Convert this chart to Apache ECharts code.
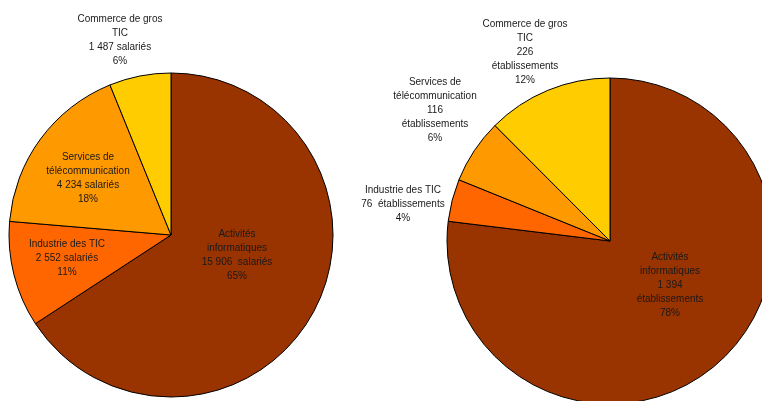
<!DOCTYPE html>
<html>
<head>
<meta charset="utf-8">
<script src="https://cdn.jsdelivr.net/npm/echarts@6/dist/echarts.min.js"></script>
<style>
  html, body { margin: 0; padding: 0; background: #fff; }
  #chart { width: 762px; height: 401px; }
</style>
</head>
<body>
<div id="chart"></div>
<script>
// secteurs, dans l'ordre horaire depuis midi
var sectors = ['Activités\ninformatiques', 'Industrie des TIC', 'Services de\ntélécommunication', 'Commerce de gros\nTIC'];
var sectorColors = ['#993300', '#FF6600', '#FF9900', '#FFCC00'];

// salariés
var employees = [15906, 2552, 4234, 1487];
var employeesPct = ['65%', '11%', '18%', '6%'];
var employeesSep = ['  salariés', ' salariés', ' salariés', ' salariés'];

// établissements
var firms = [1394, 76, 116, 226];
var firmsPct = ['78%', '4%', '6%', '12%'];
var firmsSep = ['\nétablissements', '  établissements', '\nétablissements', '\nétablissements'];

// position des étiquettes (centre)
var labelAnchors = [
    [[237, 255], [67, 258], [88, 178], [120, 40]],
    [[670, 285], [403, 204], [435, 110], [525, 52]]
];

function fmt(n) {
    return String(n).replace(/\B(?=(\d{3})+(?!\d))/g, ' ');
}

function buildData(values, seps, pcts) {
    var out = [];
    for (var i = 0; i < sectors.length; i++) {
        out.push({
            name: sectors[i],
            value: values[i],
            itemStyle: { color: sectorColors[i] },
            txt: sectors[i] + '\n' + fmt(values[i]) + seps[i] + '\n' + pcts[i]
        });
    }
    return out;
}

var leftData = buildData(employees, employeesSep, employeesPct);
var rightData = buildData(firms, firmsSep, firmsPct);
var allData = [leftData, rightData];

var chart = echarts.init(document.getElementById('chart'));

var baseSeries = {
    type: 'pie',
    startAngle: 90,
    clockwise: true,
    animation: false,
    silent: true,
    itemStyle: { borderColor: '#000', borderWidth: 1 },
    label: {
        show: true,
        position: 'inside',
        fontFamily: 'Liberation Sans, Arial, sans-serif',
        fontSize: 10,
        lineHeight: 14,
        color: '#1a1a1a',
        align: 'center'
    },
    labelLine: { show: false },
    emphasis: { disabled: true },
    labelLayout: function (p) {
        var a = labelAnchors[p.seriesIndex][p.dataIndex];
        return { x: a[0], y: a[1], align: 'center', verticalAlign: 'middle' };
    }
};

function makeSeries(idx, center, radius) {
    var s = JSON.parse(JSON.stringify(baseSeries));
    s.labelLayout = baseSeries.labelLayout;
    s.center = center;
    s.radius = radius;
    s.data = allData[idx];
    s.label.formatter = function (p) {
        return allData[idx][p.dataIndex].txt;
    };
    return s;
}

chart.setOption({
    backgroundColor: '#fff',
    series: [
        makeSeries(0, [171, 235], 162),
        makeSeries(1, [610, 241], 163)
    ]
});
</script>
</body>
</html>
